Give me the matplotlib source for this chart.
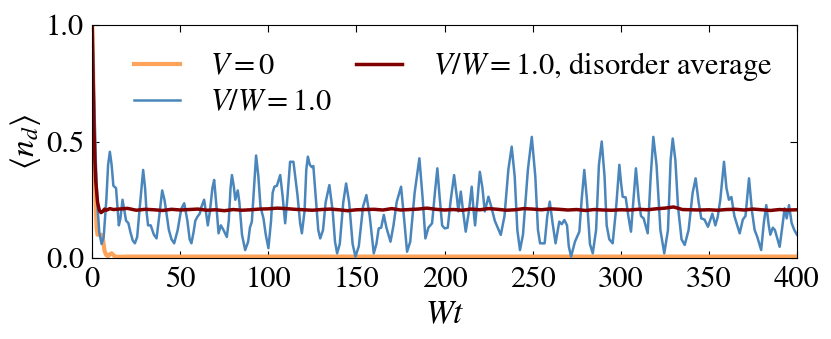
import matplotlib
matplotlib.use("Agg")
import matplotlib.pyplot as plt

plt.rcParams['font.family'] = 'STIXGeneral'
plt.rcParams['mathtext.fontset'] = 'stix'

# V = 0 (clean)
t_clean = [0, 0.5, 1, 1.5, 2, 2.5, 3, 4, 5, 6, 7, 8, 9, 10, 11, 12, 13, 15, 20, 400]
n_clean = [1.0, 0.8, 0.55, 0.35, 0.22, 0.13, 0.10, 0.10, 0.10, 0.085, 0.03, 0.012,
           0.008, 0.016, 0.02, 0.012, 0.006, 0.005, 0.006, 0.006]

# V/W = 1.0, single realisation
t_dis = [0, 1, 2, 3, 4, 5.3, 6.5, 8, 9, 10, 11, 12, 13.5, 14.3, 15.1, 16, 17.2, 18.3,
         19.2, 20.5, 21.7, 23, 24.2, 25.5, 27, 28.9, 30, 30.8, 31.7, 33.2, 35, 36.5,
         38.2, 39.7, 41, 41.6, 43.5, 45, 46.5, 48.5, 50.5, 52.2, 54, 55.3, 56.3, 57.5,
         58.5, 59.7, 61, 62, 63.5, 64.5, 65.6, 66.8, 68.2, 69.2, 70.3, 71.7, 73, 74.5,
         76.4, 77.5, 78.5, 79.3, 80.3, 81.2, 82.6, 83.5, 85, 86.8, 88.5, 89.5, 90.6,
         91.8, 93, 94.3, 95.5, 97.2, 98.5, 100, 101.5, 102.4, 103.4, 104.8, 106.7, 108,
         109.5, 110.8, 112.3, 114.2, 116.5, 118, 119, 120.5, 121.5, 122.4, 123.5, 124.7,
         125.5, 127, 128.3, 129.4, 131, 132.5, 134.6, 136.5, 137.8, 139, 140.5, 142.5,
         144.1, 145.8, 147.8, 149.4, 151.3, 153.7, 155.6, 157.5, 159.8, 161.3, 162.6,
         164, 165.5, 167, 169.3, 171, 172.8, 175.3, 177, 178.7, 180.5, 183, 185.7, 187.5,
         189.1, 190.8, 192.9, 194.5, 195.9, 197.2, 198.6, 200, 201.8, 203.5, 205.4, 207,
         207.8, 209.2, 210.5, 212, 213.8, 215.4, 216.5, 217.3, 218.8, 220, 221.5, 222.8,
         224.9, 226.5, 228.5, 231.9, 234, 236.2, 238.1, 239.8, 241.3, 242.8, 244.5,
         247.3, 249.5, 251.5, 253, 254.2, 256.8, 258.3, 259.7, 261.3, 263, 264.3, 265.1,
         266.5, 268, 269.5, 270.5, 271.8, 274, 276.5, 277.8, 279.3, 280.8, 282.5, 284.1,
         286, 287.6, 289.2, 290.8, 292, 293.5, 295.4, 297.2, 299.2, 300.2, 301.1, 302.8,
         304.3, 305.8, 307.2, 308.6, 310.2, 311.5, 313, 315.3, 317, 318.5, 320.3, 322.5,
         324.7, 326.8, 328.3, 329.5, 331, 332.5, 334.5, 336.3, 338.5, 340.8, 342.5,
         344.2, 345.7, 347.5, 349.5, 352, 353.7, 355, 356.5, 358.6, 360, 361.4, 362.8,
         364.5, 367.5, 369.3, 370.8, 372.8, 374.5, 376, 377.5, 379.7, 381.2, 382.6, 384,
         384.9, 386.3, 387.5, 390.2, 391.8, 393, 394.2, 395.5, 397, 398.5, 400]
n_dis = [1.0, 0.72, 0.42, 0.22, 0.11, 0.06, 0.09, 0.25, 0.40, 0.456, 0.40, 0.31, 0.30,
         0.22, 0.14, 0.17, 0.25, 0.20, 0.16, 0.15, 0.11, 0.075, 0.063, 0.09, 0.22, 0.378,
         0.30, 0.20, 0.14, 0.14, 0.10, 0.084, 0.19, 0.29, 0.25, 0.22, 0.12, 0.08, 0.063,
         0.12, 0.21, 0.235, 0.16, 0.08, 0.063, 0.11, 0.16, 0.177, 0.19, 0.22, 0.25, 0.20,
         0.14, 0.20, 0.30, 0.335, 0.24, 0.106, 0.14, 0.12, 0.09, 0.16, 0.30, 0.356, 0.31,
         0.25, 0.29, 0.24, 0.10, 0.034, 0.07, 0.13, 0.156, 0.30, 0.44, 0.35, 0.22, 0.17,
         0.10, 0.042, 0.16, 0.28, 0.306, 0.31, 0.356, 0.27, 0.149, 0.26, 0.413, 0.413,
         0.27, 0.15, 0.106, 0.20, 0.38, 0.435, 0.40, 0.39, 0.395, 0.25, 0.12, 0.084, 0.12,
         0.24, 0.313, 0.20, 0.07, 0.02, 0.06, 0.24, 0.32, 0.24, 0.06, 0.006, 0.05, 0.22,
         0.27, 0.18, 0.02, 0.06, 0.127, 0.13, 0.185, 0.13, 0.07, 0.14, 0.24, 0.306, 0.17,
         0.027, 0.07, 0.28, 0.428, 0.26, 0.084, 0.13, 0.149, 0.28, 0.385, 0.26, 0.14,
         0.127, 0.13, 0.25, 0.356, 0.26, 0.20, 0.285, 0.20, 0.113, 0.20, 0.306, 0.20,
         0.14, 0.26, 0.37, 0.30, 0.20, 0.263, 0.22, 0.16, 0.099, 0.18, 0.38, 0.478, 0.35,
         0.12, 0.034, 0.10, 0.38, 0.52, 0.35, 0.12, 0.063, 0.063, 0.18, 0.242, 0.15,
         0.063, 0.12, 0.156, 0.145, 0.163, 0.14, 0.05, 0.006, 0.07, 0.113, 0.25, 0.378,
         0.25, 0.06, 0.02, 0.12, 0.40, 0.50, 0.35, 0.14, 0.08, 0.063, 0.20, 0.40, 0.32,
         0.263, 0.26, 0.18, 0.113, 0.25, 0.385, 0.25, 0.18, 0.17, 0.106, 0.35, 0.52, 0.40,
         0.12, 0.02, 0.12, 0.42, 0.513, 0.42, 0.22, 0.08, 0.056, 0.12, 0.28, 0.342, 0.24,
         0.17, 0.165, 0.134, 0.19, 0.14, 0.175, 0.25, 0.413, 0.30, 0.25, 0.262, 0.18,
         0.106, 0.165, 0.18, 0.342, 0.20, 0.12, 0.09, 0.034, 0.15, 0.227, 0.14, 0.10,
         0.13, 0.12, 0.048, 0.14, 0.213, 0.17, 0.227, 0.15, 0.12, 0.10]

# V/W = 1.0, disorder average
t_avg = [0, 0.5, 1, 1.5, 2, 3, 4, 5, 6, 7, 8, 10, 12, 15, 20] + list(range(25, 401, 5))
n_avg = [1.0, 0.75, 0.55, 0.42, 0.33, 0.24, 0.205, 0.195, 0.20, 0.21, 0.205, 0.212,
         0.208, 0.21, 0.213,
         0.205, 0.209, 0.207, 0.204, 0.209, 0.206, 0.208, 0.210, 0.205, 0.207, 0.203,
         0.208, 0.205, 0.207, 0.210, 0.211, 0.214, 0.212, 0.209, 0.207, 0.205, 0.208,
         0.210, 0.207, 0.203, 0.207, 0.208, 0.209, 0.206, 0.212, 0.206, 0.208, 0.210,
         0.214, 0.209, 0.206, 0.208, 0.205, 0.210, 0.207, 0.212, 0.209, 0.205, 0.207,
         0.212, 0.210, 0.207, 0.211, 0.209, 0.206, 0.208, 0.204, 0.208, 0.206, 0.205,
         0.207, 0.206, 0.209, 0.207, 0.211, 0.214, 0.219, 0.208, 0.207, 0.206, 0.207,
         0.205, 0.208, 0.209, 0.206, 0.210, 0.207, 0.204, 0.208, 0.206, 0.207]

fig = plt.figure(figsize=(8.31, 3.39), dpi=100)
ax = fig.add_axes([0.111, 0.239, 0.848, 0.687])

ax.plot(t_clean, n_clean, color='#fda35a', lw=3, label=r'$V=0$')
ax.plot(t_dis, n_dis, color='#4a86bb', lw=1.8, label=r'$V/W=1.0$')
ax.plot(t_avg, n_avg, color='#800000', lw=2.5, label=r'$V/W=1.0$, disorder average')

ax.set_xlim(0, 400)
ax.set_ylim(0, 1.0)
ax.set_xticks(range(0, 401, 50))
ax.set_yticks([0.0, 0.5, 1.0])
ax.tick_params(direction='in', top=True, right=True, labelsize=22, length=5, pad=6)
ax.set_xlabel(r'$Wt$', fontsize=24, labelpad=5)
ax.set_ylabel(r'$\langle n_d \rangle$', fontsize=24, labelpad=2)

ax.legend(loc='upper left', bbox_to_anchor=(0.02, 1.01), ncol=2, frameon=False,
          fontsize=22, handlelength=1.5, handletextpad=1.0, columnspacing=0.8,
          labelspacing=0.25)

fig.savefig('out.png', dpi=100)
